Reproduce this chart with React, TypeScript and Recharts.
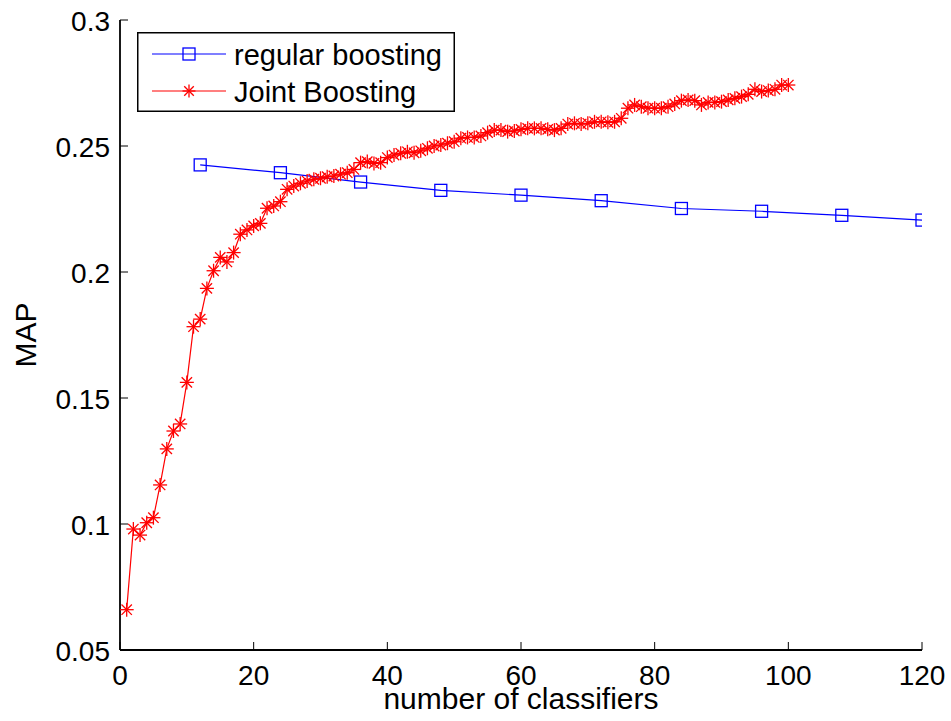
import React from 'react';
import { LineChart, Line, XAxis, YAxis, Legend } from 'recharts';

const FONT = '"Liberation Sans", Arial, Helvetica, sans-serif';

const xTicks = [0, 20, 40, 60, 80, 100, 120];
const yTicks = [0.05, 0.1, 0.15, 0.2, 0.25, 0.3];

const regularName = 'regular boosting';
const jointName = 'Joint Boosting';
const legendOrder = [regularName, jointName];

const regularClassifiers = [12, 24, 36, 48, 60, 72, 84, 96, 108, 120];
const regularMAP = [0.2425, 0.2394, 0.2357, 0.2324, 0.2305, 0.2283, 0.2252, 0.2241, 0.2225, 0.2206];

const jointClassifiers = [
  1, 2, 3, 4, 5, 6, 7, 8, 9, 10,
  11, 12, 13, 14, 15, 16, 17, 18, 19, 20,
  21, 22, 23, 24, 25, 26, 27, 28, 29, 30,
  31, 32, 33, 34, 35, 36, 37, 38, 39, 40,
  41, 42, 43, 44, 45, 46, 47, 48, 49, 50,
  51, 52, 53, 54, 55, 56, 57, 58, 59, 60,
  61, 62, 63, 64, 65, 66, 67, 68, 69, 70,
  71, 72, 73, 74, 75, 76, 77, 78, 79, 80,
  81, 82, 83, 84, 85, 86, 87, 88, 89, 90,
  91, 92, 93, 94, 95, 96, 97, 98, 99, 100,
];
const jointMAP = [
  0.066, 0.098, 0.0956, 0.1005, 0.1025, 0.1155, 0.1298, 0.1369, 0.1397, 0.1562,
  0.1783, 0.1813, 0.1935, 0.2005, 0.2058, 0.204, 0.2077, 0.215, 0.2167, 0.2183,
  0.2193, 0.2253, 0.2262, 0.2279, 0.2328, 0.2341, 0.2352, 0.2361, 0.2368, 0.2372,
  0.2378, 0.2381, 0.2388, 0.2394, 0.2407, 0.2434, 0.2438, 0.2431, 0.2434, 0.2454,
  0.2464, 0.2471, 0.2477, 0.2473, 0.2481, 0.2491, 0.25, 0.2504, 0.2511, 0.2517,
  0.2531, 0.2534, 0.2534, 0.254, 0.2553, 0.2563, 0.2563, 0.2557, 0.256, 0.2566,
  0.257, 0.257, 0.257, 0.2566, 0.2563, 0.257, 0.2587, 0.259, 0.2587, 0.259,
  0.2596, 0.2596, 0.2594, 0.2596, 0.261, 0.265, 0.2663, 0.2656, 0.265, 0.265,
  0.265, 0.2656, 0.2667, 0.268, 0.2683, 0.268, 0.2663, 0.2673, 0.2673, 0.2676,
  0.2683, 0.2689, 0.2696, 0.2705, 0.2725, 0.2716, 0.272, 0.2725, 0.2742, 0.2742,
];

const regularData = regularClassifiers.map((x, i) => ({ x, map: regularMAP[i] }));
const jointData = jointClassifiers.map((x, i) => ({ x, map: jointMAP[i] }));

const BLUE = '#0000ff';
const RED = '#ff0000';
const TICK_LEN = 8;
const TICK_FONT = 28;
const FRAME = { stroke: '#000', strokeWidth: 1.8 };

const Square = ({ cx, cy, color }: any) => (
  <rect x={cx - 6} y={cy - 6} width={12} height={12} fill="none" stroke={color} strokeWidth={1.3} />
);

const Asterisk = ({ cx, cy, color, size = 7 }: any) => {
  const r = size;
  const d = size * 0.74;
  return (
    <g stroke={color} strokeWidth={1.3} fill="none">
      <line x1={cx - r} x2={cx + r} y1={cy} y2={cy} />
      <line x1={cx} x2={cx} y1={cy - r} y2={cy + r} />
      <line x1={cx - d} x2={cx + d} y1={cy - d} y2={cy + d} />
      <line x1={cx - d} x2={cx + d} y1={cy + d} y2={cy - d} />
    </g>
  );
};

const renderSquare = (p: any) => <Square key={`sq-${p.index}`} cx={p.cx} cy={p.cy} color={BLUE} />;
const renderAsterisk = (p: any) => <Asterisk key={`as-${p.index}`} cx={p.cx} cy={p.cy} color={RED} />;

const BottomTick = ({ x, y, payload }: any) => (
  <g>
    <line x1={x} x2={x} y1={y} y2={y - TICK_LEN} stroke="#000" strokeWidth={1} />
    <text x={x} y={y + 35} textAnchor="middle" fontSize={TICK_FONT} fontFamily={FONT} fill="#000">
      {payload.value}
    </text>
  </g>
);

const LeftTick = ({ x, y, payload }: any) => (
  <g>
    <line x1={x} x2={x + TICK_LEN} y1={y} y2={y} stroke="#000" strokeWidth={1} />
    <text x={x - 10} y={y + 11} textAnchor="end" fontSize={TICK_FONT} fontFamily={FONT} fill="#000">
      {payload.value}
    </text>
  </g>
);

const XLabel = ({ viewBox }: any) => (
  <text
    x={viewBox.x + viewBox.width / 2}
    y={viewBox.y + 59}
    textAnchor="middle"
    fontSize={30}
    fontFamily={FONT}
    fill="#000"
  >
    number of classifiers
  </text>
);

const YLabel = ({ viewBox }: any) => {
  const cx = viewBox.x + 36;
  const cy = viewBox.y + viewBox.height / 2;
  return (
    <text
      x={cx}
      y={cy}
      transform={`rotate(-90 ${cx} ${cy})`}
      textAnchor="middle"
      fontSize={30}
      fontFamily={FONT}
      fill="#000"
    >
      MAP
    </text>
  );
};

const LegendBox = ({ payload }: any) => {
  const items = [...(payload || [])].sort(
    (a: any, b: any) => legendOrder.indexOf(a.value) - legendOrder.indexOf(b.value)
  );
  return (
    <svg width={318} height={80} style={{ display: 'block' }}>
      <rect x={0.75} y={0.75} width={316.5} height={78.5} fill="#fff" stroke="#000" strokeWidth={1.5} />
      {items.map((entry: any, i: number) => {
        const cy = 22 + i * 37;
        const isRegular = entry.value === regularName;
        return (
          <g key={entry.value}>
            <line x1={15} x2={89} y1={cy} y2={cy} stroke={entry.color} strokeWidth={1.2} />
            {isRegular ? (
              <Square cx={52} cy={cy} color={entry.color} />
            ) : (
              <Asterisk cx={52} cy={cy} color={entry.color} size={6.5} />
            )}
            <text x={97} y={cy + 11} fontSize={29} fontFamily={FONT} fill="#000">
              {entry.value}
            </text>
          </g>
        );
      })}
    </svg>
  );
};

export default function App() {
  return (
    <div style={{ position: 'absolute', left: 0, top: 0, width: 951, height: 721, background: '#fff' }}>
      <LineChart width={951} height={721} margin={{ top: 20, right: 29, bottom: 0, left: 0 }}>
        <XAxis
          xAxisId={0}
          type="number"
          dataKey="x"
          domain={[0, 120]}
          ticks={xTicks}
          allowDataOverflow
          height={71}
          tickSize={0}
          tickMargin={0}
          tickLine={false}
          tick={<BottomTick />}
          axisLine={FRAME}
          interval={0}
          label={<XLabel />}
        />
        <XAxis
          xAxisId="top"
          orientation="top"
          type="number"
          dataKey="x"
          domain={[0, 120]}
          ticks={xTicks}
          allowDataOverflow
          height={0}
          mirror
          tickSize={TICK_LEN}
          tickLine={{ stroke: '#000', strokeWidth: 1 }}
          tick={false}
          axisLine={FRAME}
          interval={0}
        />
        <YAxis
          yAxisId={0}
          type="number"
          domain={[0.05, 0.3]}
          ticks={yTicks}
          allowDataOverflow
          width={120}
          tickSize={0}
          tickMargin={0}
          tickLine={false}
          tick={<LeftTick />}
          axisLine={FRAME}
          interval={0}
          label={<YLabel />}
        />
        <YAxis
          yAxisId="right"
          orientation="right"
          type="number"
          domain={[0.05, 0.3]}
          ticks={yTicks}
          allowDataOverflow
          width={0}
          mirror
          tickSize={TICK_LEN}
          tickLine={{ stroke: '#000', strokeWidth: 1 }}
          tick={false}
          axisLine={FRAME}
          interval={0}
        />
        <Legend
          layout="vertical"
          align="center"
          verticalAlign="middle"
          wrapperStyle={{ left: 137, top: 32, width: 318, height: 80 }}
          content={<LegendBox />}
        />
        <Line
          xAxisId={0}
          yAxisId={0}
          data={regularData}
          dataKey="map"
          name={regularName}
          type="linear"
          stroke={BLUE}
          strokeWidth={1.2}
          dot={renderSquare}
          activeDot={false}
          isAnimationActive={false}
        />
        <Line
          xAxisId={0}
          yAxisId={0}
          data={jointData}
          dataKey="map"
          name={jointName}
          type="linear"
          stroke={RED}
          strokeWidth={1.2}
          dot={renderAsterisk}
          activeDot={false}
          isAnimationActive={false}
        />
      </LineChart>
    </div>
  );
}
